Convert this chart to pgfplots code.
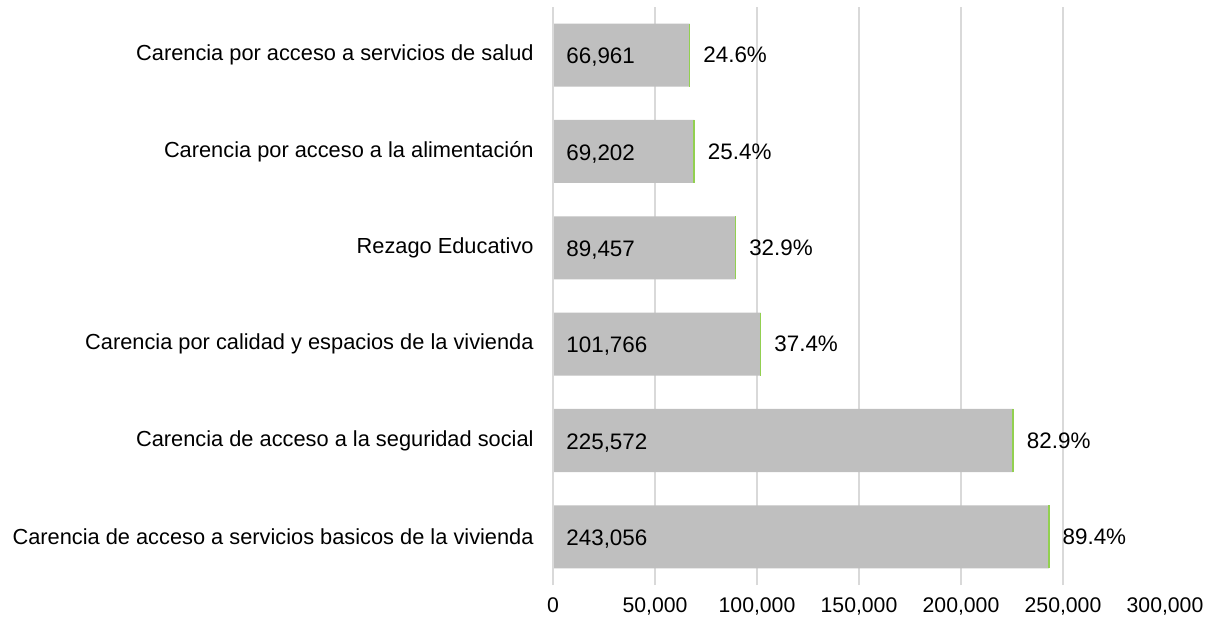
\documentclass[border=0pt]{standalone}
\usepackage{pgfplots}
\pgfplotsset{compat=1.18}
\usepackage{pgfplotstable}
\usepackage{fontspec}
\setmainfont{Liberation Sans}
\definecolor{bargray}{RGB}{191,191,191}
\definecolor{gridgray}{RGB}{217,217,217}
\definecolor{edgegreen}{RGB}{146,208,80}
\pgfplotstableread[col sep=comma]{
y,val,zero,vlab,plab
0,243056,0,{243,056},89.4\%
1,225572,0,{225,572},82.9\%
2,101766,0,{101,766},37.4\%
3,89457,0,{89,457},32.9\%
4,69202,0,{69,202},25.4\%
5,66961,0,{66,961},24.6\%
}\data
\begin{document}
\begin{tikzpicture}
\begin{axis}[
  name=ax,
  scale only axis,
  width=306pt, height=289pt,
  xmin=0, xmax=300000,
  ymin=-0.5, ymax=5.5,
  xtick={0,50000,100000,150000,200000,250000},
  extra x ticks={300000},
  extra x tick style={grid=none},
  scaled x ticks=false,
  /pgf/number format/fixed,
  /pgf/number format/1000 sep={,},
  /pgf/number format/assume math mode=true,
  x tick label style={font=\fontsize{10.6}{12}\selectfont, inner sep=0pt, anchor=north, yshift=-6pt},
  ytick={0,1,2,3,4,5},
  yticklabels={Carencia de acceso a servicios basicos de la vivienda,
               Carencia de acceso a la seguridad social,
               Carencia por calidad y espacios de la vivienda,
               Rezago Educativo,
               Carencia por acceso a la alimentación,
               Carencia por acceso a servicios de salud},
  y tick label style={font=\fontsize{10.9}{13}\selectfont, inner sep=0pt, anchor=east, xshift=-9.5pt},
  major tick length=0pt,
  xmajorgrids,
  grid style={gridgray, line width=0.75pt},
  axis line style={draw=none},
  clip=false,
]
\addplot[xbar, bar width=31.5pt, fill=bargray, draw=none] table[x=val, y=y] {\data};
\addplot[only marks, mark=|, mark size=15.75pt, mark options={draw=edgegreen, line width=0.8pt},
  point meta=explicit symbolic,
  nodes near coords,
  every node near coord/.style={font=\fontsize{11.2}{13}\selectfont, text=black, anchor=west, inner sep=0pt, xshift=6.5pt}]
  table[x=val, y=y, meta=plab] {\data};
\addplot[only marks, mark=none,
  point meta=explicit symbolic,
  nodes near coords,
  every node near coord/.style={font=\fontsize{11.2}{13}\selectfont, text=black, anchor=west, inner sep=0pt, xshift=6.5pt, yshift=-1.2pt}]
  table[x=zero, y=y, meta=vlab] {\data};
\draw[gridgray, line width=0.75pt] (axis cs:0,-0.5) -- (axis cs:0,5.5);
\end{axis}
\path ([shift={(-276.5pt,-20pt)}]ax.south west) rectangle ([shift={(23.5pt,3.5pt)}]ax.north east);
\end{tikzpicture}
\end{document}
